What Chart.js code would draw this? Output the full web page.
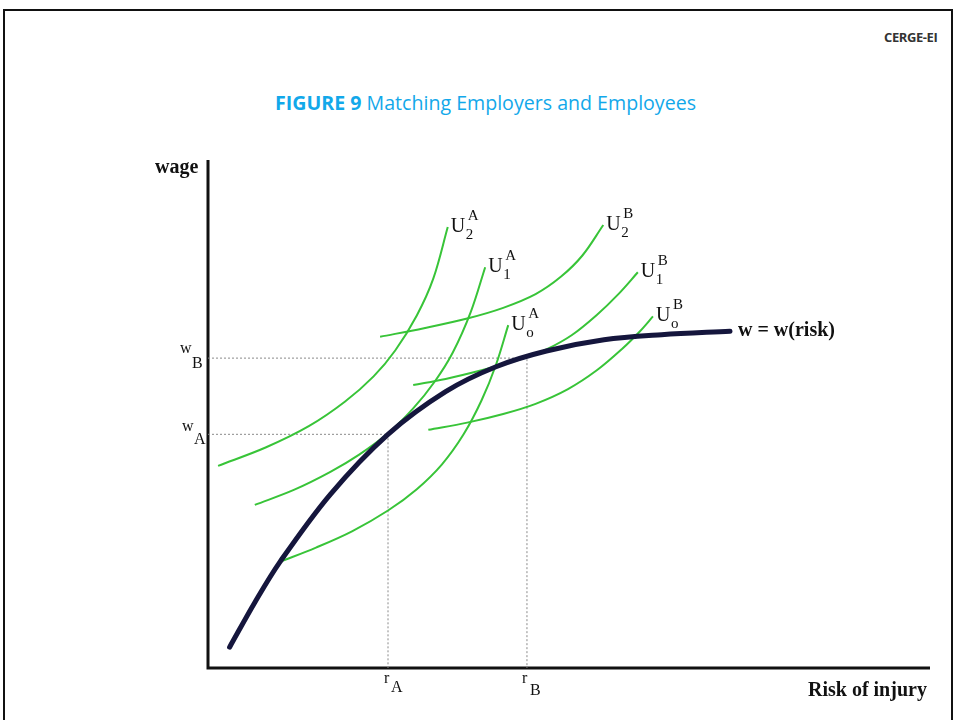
<!DOCTYPE html>
<html>
<head>
<meta charset="utf-8">
<script src="https://cdn.jsdelivr.net/npm/chart.js@4.4.1/dist/chart.umd.min.js"></script>
<style>
    html, body { margin: 0; padding: 0; background: #fff; }
    #slide { position: relative; width: 955px; height: 720px; overflow: hidden; }
    #frame { position: absolute; left: 3px; top: 9px; width: 946px; height: 800px; border: 2px solid #111; }
    #brand { position: absolute; left: 884px; top: 28px; font: bold 13px "Open Sans"; color: #333; letter-spacing: -0.4px; }
    #title { position: absolute; left: 275px; top: 89px; white-space: nowrap; font-family: "Open Sans"; font-size: 19.6px; color: #12a8ea; }
    #title b { font-weight: 700; }
    canvas { position: absolute; left: 0; top: 0; }
</style>
</head>
<body>
<div id="slide">
    <div id="frame"></div>
    <div id="brand">CERGE-EI</div>
    <div id="title"><b>FIGURE 9</b> Matching Employers and Employees</div>
    <canvas id="matchChart" width="955" height="720"></canvas>
</div>

<script>
// market wage-risk locus w = w(risk)
const marketRisk = [3, 6.5, 10, 17, 25, 33, 40, 47, 55, 63, 72.5];
const marketWage = [4.1, 12.9, 20.9, 34.2, 46, 54.4, 59.3, 62.4, 64.6, 65.6, 66.3];

// worker A indifference curves
const u2aRisk = [1.4, 8, 14, 19, 23, 26, 29, 31.3, 33.3];
const u2aWage = [39.8, 43.4, 47.6, 52.4, 57.4, 62.5, 69.4, 76.7, 86.8];
const u1aRisk = [6.5, 12, 17, 21, 25, 28.5, 31.5, 34, 36.5, 38.5];
const u1aWage = [32.1, 35.1, 38.6, 42, 46.2, 51.1, 56.4, 62.1, 70.1, 78.9];
const u0aRisk = [10, 15, 20, 25, 29, 32.5, 35.5, 38, 40, 41.7];
const u0aWage = [20.9, 23.7, 26.9, 31, 35.2, 40.1, 46, 52.7, 59.7, 67.5];

// worker B indifference curves
const u2bRisk = [23.9, 30, 36, 41, 45.5, 49, 52, 54.9];
const u2bWage = [65.2, 66.9, 68.8, 70.9, 73.6, 77, 81.2, 87.2];
const u1bRisk = [28.5, 33, 38, 42, 44.3, 47, 50.5, 54, 57, 59.7];
const u1bWage = [55.7, 56.9, 58.6, 60.2, 61.2, 62.7, 65.5, 69.5, 73.6, 77.9];
const u0bRisk = [30.6, 36, 41, 45.5, 50, 54, 57.5, 60, 61.8];
const u0bWage = [46.9, 48.3, 50, 52, 54.9, 58.6, 62.8, 66.3, 69.2];

// matching points
const rA = 25, wA = 46;
const rB = 44.3, wB = 61;

const GREEN = "#38c438";
const NAVY = "#15163d";

function toPoints(xs, ys) {
    return xs.map((x, i) => ({ x: x, y: ys[i] }));
}

function greenCurve(xs, ys, sub, sup) {
    return {
        data: toPoints(xs, ys),
        borderColor: GREEN,
        borderWidth: 2,
        tension: 0.35,
        order: 1,
        curveSub: sub,
        curveSup: sup
    };
}

function dottedGuide(r, w) {
    return {
        data: [{ x: 0, y: w }, { x: r, y: w }, { x: r, y: 0 }],
        borderColor: "#8a8a8a",
        borderWidth: 1,
        borderDash: [2, 2],
        tension: 0,
        order: 2
    };
}

const diagramText = {
    id: "diagramText",

    beforeDatasetsDraw(chart) {
        const ctx = chart.ctx;
        const x = chart.scales.x;
        const y = chart.scales.y;
        const x0 = x.getPixelForValue(0);
        const y0 = y.getPixelForValue(0);

        ctx.save();
        ctx.strokeStyle = "#111";
        ctx.lineWidth = 3;
        ctx.beginPath();
        ctx.moveTo(x0, chart.chartArea.top);
        ctx.lineTo(x0, y0);
        ctx.lineTo(chart.chartArea.right + 2, y0);
        ctx.stroke();
        ctx.restore();
    },

    afterDatasetsDraw(chart) {
        const ctx = chart.ctx;
        const x = chart.scales.x;
        const y = chart.scales.y;
        const x0 = x.getPixelForValue(0);
        const y0 = y.getPixelForValue(0);
        const serif = "\"Liberation Serif\", \"Times New Roman\", serif";

        ctx.save();
        ctx.fillStyle = "#111";
        ctx.textBaseline = "alphabetic";
        ctx.textAlign = "left";

        // curve labels at the top end of each green curve
        chart.data.datasets.forEach((ds, i) => {
            if (!ds.curveSub) return;
            const pts = chart.getDatasetMeta(i).data;
            const end = pts[pts.length - 1];
            const lx = end.x + 3;
            const ly = end.y + 5;
            ctx.font = "20px " + serif;
            ctx.fillText("U", lx, ly);
            ctx.font = "15px " + serif;
            ctx.fillText(ds.curveSub, lx + 15, ly + 7);
            ctx.fillText(ds.curveSup, lx + 17, ly - 12);
        });

        // axis markers
        ctx.font = "16px " + serif;
        const pyB = y.getPixelForValue(wB);
        const pyA = y.getPixelForValue(wA);
        ctx.fillText("w", x0 - 28, pyB - 5);
        ctx.fillText("B", x0 - 16, pyB + 10);
        ctx.fillText("w", x0 - 26, pyA - 3);
        ctx.fillText("A", x0 - 14, pyA + 10);

        const pxA = x.getPixelForValue(rA);
        const pxB = x.getPixelForValue(rB);
        ctx.fillText("r", pxA - 4, y0 + 15);
        ctx.fillText("A", pxA + 3, y0 + 24);
        ctx.fillText("r", pxB - 5, y0 + 15);
        ctx.fillText("B", pxB + 3, y0 + 27);

        // axis titles
        ctx.font = "bold 20px " + serif;
        ctx.fillText("wage", x0 - 53, chart.chartArea.top + 13);
        ctx.fillText("Risk of injury", chart.chartArea.right - 120, y0 + 28);

        const last = marketRisk.length - 1;
        ctx.fillText("w = w(risk)",
            x.getPixelForValue(marketRisk[last]) + 8,
            y.getPixelForValue(marketWage[last]) + 5);

        ctx.restore();
    }
};

const ctx = document.getElementById("matchChart").getContext("2d");

new Chart(ctx, {
    type: "scatter",
    data: {
        datasets: [
            {
                data: toPoints(marketRisk, marketWage),
                borderColor: NAVY,
                borderWidth: 5,
                borderCapStyle: "round",
                tension: 0.35,
                order: 0
            },
            greenCurve(u2aRisk, u2aWage, "2", "A"),
            greenCurve(u1aRisk, u1aWage, "1", "A"),
            greenCurve(u0aRisk, u0aWage, "o", "A"),
            greenCurve(u2bRisk, u2bWage, "2", "B"),
            greenCurve(u1bRisk, u1bWage, "1", "B"),
            greenCurve(u0bRisk, u0bWage, "o", "B"),
            dottedGuide(rA, wA),
            dottedGuide(rB, wB)
        ]
    },
    options: {
        responsive: false,
        animation: false,
        devicePixelRatio: 1,
        events: [],
        showLine: true,
        elements: {
            point: { radius: 0 },
            line: { fill: false }
        },
        layout: {
            padding: { left: 208, right: 27, top: 160, bottom: 52 }
        },
        scales: {
            x: { type: "linear", min: 0, max: 100, display: false },
            y: { type: "linear", min: 0, max: 100, display: false }
        },
        plugins: {
            legend: { display: false },
            tooltip: { enabled: false },
            title: { display: false }
        }
    },
    plugins: [diagramText]
});
</script>
</body>
</html>
